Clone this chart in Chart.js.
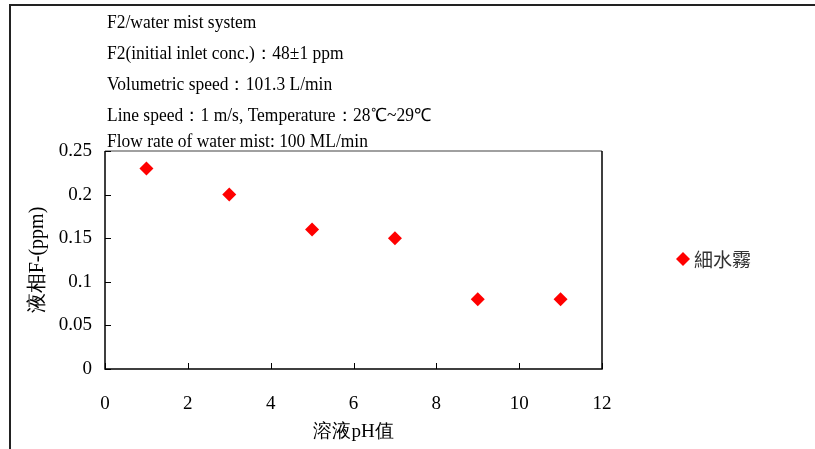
<!DOCTYPE html>
<html lang="zh-Hant">
<head>
<meta charset="utf-8">
<script src="https://cdn.jsdelivr.net/npm/chart.js@4/dist/chart.umd.min.js"></script>
<title>F2 water mist - pH</title>
<style>
  body { margin: 0; background: #fff; }
</style>
</head>
<body>
<canvas id="myChart" width="815" height="449"></canvas>
<script>
    // pH of the scrubbing solution vs. liquid-phase F- (ppm)
    const phValues = [1, 3, 5, 7, 9, 11];
    const fValues = [0.23, 0.2, 0.16, 0.15, 0.08, 0.08];
    const seriesName = "細水霧";
    const xTicks = [0, 2, 4, 6, 8, 10, 12];
    const yTicks = [0, 0.05, 0.1, 0.15, 0.2, 0.25];
    const noteLines = [
        "F2/water mist system",
        "F2(initial inlet conc.)：48±1 ppm",
        "Volumetric speed：101.3 L/min",
        "Line speed：1 m/s, Temperature：28℃~29℃",
        "Flow rate of water mist: 100 ML/min"
    ];
    const xTitle = "溶液pH值";
    const yTitle = "液相F-(ppm)";

    const serif = "'Liberation Serif', 'Times New Roman', serif";
    const cjk = "'Noto Sans CJK TC', 'Noto Sans CJK SC', sans-serif";

    const extras = {
        id: "extras",
        afterDraw(chart) {
            const ctx = chart.ctx;
            const a = chart.chartArea;
            const xs = chart.scales.x, ys = chart.scales.y;
            ctx.save();

            // outer frame (top and left edges)
            ctx.strokeStyle = "#222";
            ctx.lineWidth = 2;
            ctx.beginPath();
            ctx.moveTo(815, 5); ctx.lineTo(10, 5); ctx.lineTo(10, 449);
            ctx.stroke();

            // plot frame
            ctx.lineWidth = 1.5;
            ctx.strokeStyle = "#808080";
            ctx.beginPath();
            ctx.moveTo(a.left, a.top); ctx.lineTo(a.right, a.top);
            ctx.stroke();
            ctx.strokeStyle = "#000";
            ctx.beginPath();
            ctx.moveTo(a.right, a.top); ctx.lineTo(a.right, a.bottom);
            ctx.lineTo(a.left, a.bottom); ctx.lineTo(a.left, a.top);
            ctx.stroke();

            // inside tick marks
            ctx.lineWidth = 1;
            ctx.beginPath();
            xTicks.forEach(v => {
                const px = Math.round(xs.getPixelForValue(v)) + 0.5;
                ctx.moveTo(px, a.bottom); ctx.lineTo(px, a.bottom - 6);
            });
            yTicks.forEach(v => {
                const py = Math.round(ys.getPixelForValue(v)) + 0.5;
                ctx.moveTo(a.left, py); ctx.lineTo(a.left + 6, py);
            });
            ctx.stroke();

            // x tick labels
            ctx.fillStyle = "#000";
            ctx.font = "19px " + serif;
            ctx.textAlign = "center";
            ctx.textBaseline = "middle";
            xTicks.forEach(v => {
                ctx.fillText(String(v), xs.getPixelForValue(v), a.bottom + 35);
            });

            // condition notes
            ctx.font = "18px " + serif;
            ctx.textAlign = "left";
            ctx.textBaseline = "alphabetic";
            const noteY = [28, 59, 90, 121, 147];
            noteLines.forEach((t, i) => {
                ctx.save();
                ctx.translate(107, noteY[i]);
                ctx.scale(0.97, 1);
                ctx.fillText(t, 0, 0);
                ctx.restore();
            });

            // axis titles
            ctx.textBaseline = "middle";
            ctx.font = "19px " + serif;
            ctx.textAlign = "center";
            ctx.fillText(xTitle, (a.left + a.right) / 2, 432);
            ctx.save();
            ctx.translate(38, (a.top + a.bottom) / 2);
            ctx.rotate(-Math.PI / 2);
            ctx.font = "20px " + serif;
            ctx.fillText(yTitle, 0, 0);
            ctx.restore();

            // legend
            const ds = chart.data.datasets[0];
            ctx.fillStyle = ds.backgroundColor;
            ctx.beginPath();
            ctx.moveTo(683, 252); ctx.lineTo(690, 259);
            ctx.lineTo(683, 266); ctx.lineTo(676, 259);
            ctx.closePath();
            ctx.fill();
            ctx.fillStyle = "#333";
            ctx.font = "19px " + cjk;
            ctx.textAlign = "left";
            ctx.fillText(ds.label, 694, 260);

            ctx.restore();
        }
    };

    const chart = new Chart("myChart", {
        type: "scatter",
        data: {
            datasets: [{
                label: seriesName,
                data: phValues.map((x, i) => ({x: x, y: fValues[i]})),
                pointStyle: "rectRot",
                radius: 7,
                hoverRadius: 7,
                backgroundColor: "#ff0000",
                borderColor: "#ff0000",
                borderWidth: 0
            }]
        },
        options: {
            responsive: false,
            animation: false,
            layout: {padding: {left: 0, top: 151, right: 213, bottom: 80}},
            plugins: {legend: {display: false}, tooltip: {enabled: false}},
            scales: {
                x: {
                    type: "linear",
                    min: 0, max: 12,
                    afterFit(s) { s.height = 0; },
                    afterBuildTicks(s) { s.ticks = xTicks.map(v => ({value: v})); },
                    grid: {display: false, drawTicks: false},
                    border: {display: false},
                    ticks: {display: false}
                },
                y: {
                    min: 0, max: 0.25,
                    afterFit(s) { s.width = 105; },
                    afterBuildTicks(s) { s.ticks = yTicks.map(v => ({value: v})); },
                    grid: {display: false, drawTicks: false},
                    border: {display: false},
                    ticks: {
                        padding: 13,
                        color: "#000",
                        font: {family: serif, size: 19},
                        callback: v => String(v)
                    }
                }
            }
        },
        plugins: [extras]
    });
</script>
</body>
</html>
